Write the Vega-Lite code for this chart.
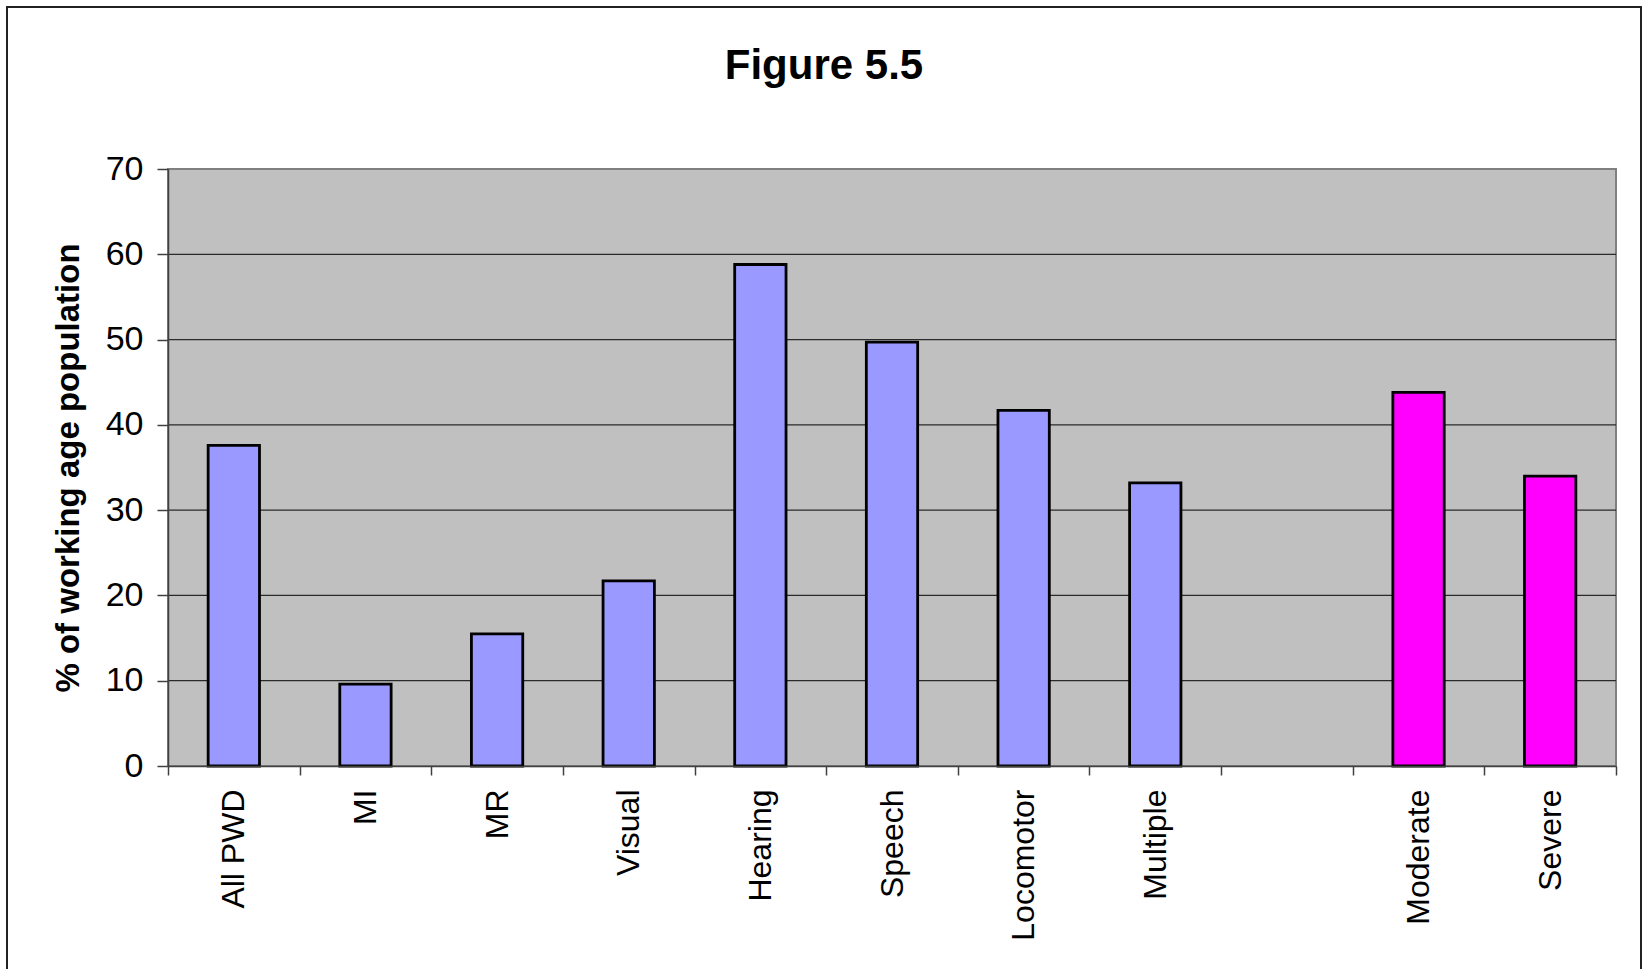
{
  "$schema": "https://vega.github.io/schema/vega-lite/v6.json",
  "autosize": {"type": "none"},
  "width": 1634,
  "height": 980,
  "padding": {"left": 7, "top": 7, "right": 6, "bottom": -18},
  "background": "white",
  "title": {
    "text": "Figure 5.5",
    "font": "Liberation Sans",
    "fontSize": 42,
    "fontWeight": "bold",
    "color": "black",
    "anchor": "middle",
    "offset": -81
  },
  "config": {
    "view": {"stroke": "#222222", "strokeWidth": 2},
    "font": "Liberation Sans"
  },
  "datasets": {
    "panel": [{"left": 0, "right": 1, "bottom": 0, "top": 70}],
    "gridlines": [
      {"left": 0, "right": 1, "level": 10},
      {"left": 0, "right": 1, "level": 20},
      {"left": 0, "right": 1, "level": 30},
      {"left": 0, "right": 1, "level": 40},
      {"left": 0, "right": 1, "level": 50},
      {"left": 0, "right": 1, "level": 60}
    ],
    "employment": [
      {"category": "All PWD", "value": 37.6, "group": "Type"},
      {"category": "MI", "value": 9.6, "group": "Type"},
      {"category": "MR", "value": 15.5, "group": "Type"},
      {"category": "Visual", "value": 21.7, "group": "Type"},
      {"category": "Hearing", "value": 58.8, "group": "Type"},
      {"category": "Speech", "value": 49.7, "group": "Type"},
      {"category": "Locomotor", "value": 41.7, "group": "Type"},
      {"category": "Multiple", "value": 33.2, "group": "Type"},
      {"category": "Moderate", "value": 43.8, "group": "Severity"},
      {"category": "Severe", "value": 34.0, "group": "Severity"}
    ]
  },
  "layer": [
    {
      "data": {"name": "panel"},
      "mark": {"type": "rect", "fill": "#C0C0C0", "stroke": "#808080", "strokeWidth": 2},
      "encoding": {
        "x": {"field": "left", "type": "quantitative", "scale": {"domain": [0, 1], "range": [161, 1609], "nice": false, "zero": false}, "axis": null},
        "x2": {"field": "right"},
        "y": {"field": "bottom", "type": "quantitative", "scale": {"domain": [0, 70], "range": [759, 162], "nice": false}, "axis": null},
        "y2": {"field": "top"}
      }
    },
    {
      "data": {"name": "gridlines"},
      "mark": {"type": "rule", "stroke": "#2a2a2a", "strokeWidth": 1.2},
      "encoding": {
        "x": {"field": "left", "type": "quantitative", "scale": {"domain": [0, 1], "range": [161, 1609], "nice": false, "zero": false}, "axis": null},
        "x2": {"field": "right"},
        "y": {"field": "level", "type": "quantitative", "axis": null}
      }
    },
    {
      "data": {"name": "employment"},
      "mark": {"type": "bar", "stroke": "black", "strokeWidth": 2.8, "width": {"band": 0.39}},
      "encoding": {
        "x": {
          "field": "category",
          "type": "nominal",
          "sort": null,
          "scale": {
            "domain": ["All PWD", "MI", "MR", "Visual", "Hearing", "Speech", "Locomotor", "Multiple", " ", "Moderate", "Severe"],
            "range": [161, 1609],
            "paddingInner": 0,
            "paddingOuter": 0
          },
          "axis": {
            "title": null,
            "orient": "bottom",
            "offset": -221,
            "zindex": 1,
            "tickBand": "extent",
            "domainColor": "#404040",
            "domainWidth": 1.5,
            "tickColor": "#404040",
            "tickWidth": 1.5,
            "tickSize": 9,
            "labelAngle": -90,
            "labelAlign": "right",
            "labelBaseline": "middle",
            "labelPadding": 14,
            "labelFont": "Liberation Sans",
            "labelFontSize": 32,
            "labelColor": "black",
            "labelLimit": 400,
            "grid": false
          }
        },
        "y": {
          "field": "value",
          "type": "quantitative",
          "axis": {
            "title": "% of working age population",
            "titleFont": "Liberation Sans",
            "titleFontSize": 33,
            "titleFontWeight": "bold",
            "titleColor": "black",
            "titlePadding": 20,
            "orient": "left",
            "offset": -161,
            "zindex": 1,
            "values": [0, 10, 20, 30, 40, 50, 60, 70],
            "grid": false,
            "domainColor": "#404040",
            "domainWidth": 1.5,
            "tickColor": "#404040",
            "tickWidth": 1.5,
            "tickSize": 11,
            "labelPadding": 14,
            "labelFont": "Liberation Sans",
            "labelFontSize": 34,
            "labelColor": "black"
          }
        },
        "fill": {
          "field": "group",
          "type": "nominal",
          "scale": {"domain": ["Type", "Severity"], "range": ["#9999FF", "#FF00FF"]},
          "legend": null
        }
      }
    }
  ],
  "resolve": {"scale": {"x": "independent"}, "axis": {"x": "independent", "y": "independent"}}
}
